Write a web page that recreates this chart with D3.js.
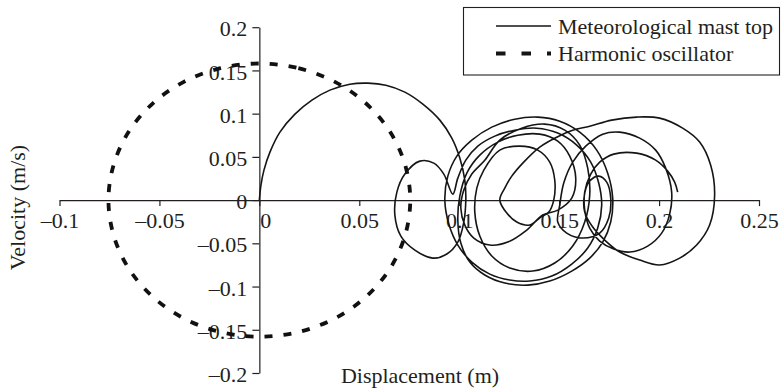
<!DOCTYPE html>
<html>
<head>
<meta charset="utf-8">
<script src="https://cdn.jsdelivr.net/npm/d3@7"></script>
<style>
  html, body { margin: 0; padding: 0; background: #fff; }
  svg { display: block; }
  text { font-family: "Liberation Serif", "Times New Roman", serif; fill: #231f20; }
</style>
</head>
<body>
<div id="chart"></div>
<script>
// Phase-plane trajectory: displacement (m) vs velocity (m/s)

const xTicks = [-0.1, -0.05, 0, 0.05, 0.1, 0.15, 0.2, 0.25];
const yTicks = [-0.2, -0.15, -0.1, -0.05, 0, 0.05, 0.1, 0.15, 0.2];

const seriesNames = ["Meteorological mast top", "Harmonic oscillator"];

// Measured response at the top of the mast
const mastDisp = [
  0.000,0.0008,0.0023,0.0053,0.0103,0.0178,0.0263,0.0353,0.0453,0.0543,0.0633,0.0728,0.0818,0.0903,0.0963,0.1003,0.1028,0.1033,
  0.1023,0.0993,0.0938,0.0868,0.0778,0.0708,0.0678,0.0688,0.0728,0.0803,0.0873,0.0923,0.0968,
  0.0993,0.1033,0.1093,0.1178,0.1278,0.1388,0.1493,0.1588,0.1658,0.1698,0.1713,0.1693,0.1643,0.1563,0.1463,0.1353,0.1253,0.1153,0.1063,0.0993,0.0948,0.0928,0.0943,0.0988,0.1063,
  0.1163,0.1278,0.1393,0.1503,0.1603,0.1688,0.1743,0.1768,0.1758,0.1718,0.1653,0.1563,0.1453,0.1343,0.1228,0.1128,0.1053,0.1008,0.0993,0.1003,0.1038,0.1103,
  0.1193,0.1293,0.1403,0.1493,0.1553,0.1583,0.1563,0.1493,0.1418,0.1338,0.1243,0.1153,0.1073,0.1028,0.1008,0.1023,0.1063,0.1128,
  0.1203,0.1313,0.1428,0.1528,0.1603,0.1643,0.1653,0.1628,0.1568,0.1478,0.1368,0.1253,0.1163,0.1103,0.1078,0.1088,0.1123,
  0.1203,0.1303,0.1393,0.1453,0.1478,0.1473,0.1448,0.1408,0.1353,0.1288,0.1238,0.1203,0.1228,0.1263,0.1318,0.1403,0.1488,0.1568,0.1653,
  0.1763,0.1888,0.2003,0.2118,0.2203,0.2258,0.2278,0.2253,0.2188,0.2103,0.2003,0.1903,0.1803,0.1728,0.1668,
  0.1628,0.1628,0.1653,0.1698,0.1738,0.1758,0.1748,0.1703,0.1618,0.1538,0.1493,0.1503,0.1523,0.1568,0.1633,0.1718,
  0.1803,0.1903,0.1983,0.2033,0.2063,0.2053,0.2013,0.1943,0.1853,0.1773,0.1703,0.1653,
  0.1628,0.1628,0.1658,0.1703,0.1773,0.1888,0.1983,0.2043,0.2078,0.2093
];
const mastVel = [
  0,0.0173,0.0347,0.0555,0.0786,0.0994,0.1156,0.1272,0.1341,0.1353,0.1329,0.1249,0.1110,0.0925,0.0717,0.0486,0.0231,0,
  -0.0254,-0.0486,-0.0624,-0.0671,-0.0578,-0.0416,-0.0173,0.0092,0.0301,0.0451,0.0428,0.0301,0.0069,
  0.0254,0.0462,0.0624,0.0740,0.0809,0.0832,0.0775,0.0636,0.0439,0.0197,-0.0058,-0.0324,-0.0555,-0.0740,-0.0879,-0.0936,-0.0925,-0.0856,-0.0717,-0.0520,-0.0277,0,0.0277,0.0509,0.0694,
  0.0844,0.0936,0.0960,0.0913,0.0786,0.0578,0.0312,0.0023,-0.0254,-0.0486,-0.0671,-0.0821,-0.0936,-0.0983,-0.0960,-0.0867,-0.0717,-0.0497,-0.0231,0.0046,0.0312,0.0520,
  0.0671,0.0751,0.0763,0.0682,0.0509,0.0254,0.0023,-0.0116,-0.0173,-0.0347,-0.0486,-0.0520,-0.0439,-0.0289,-0.0092,0.0116,0.0301,0.0462,
  0.0694,0.0832,0.0879,0.0809,0.0636,0.0370,0.0058,-0.0254,-0.0532,-0.0728,-0.0821,-0.0786,-0.0647,-0.0416,-0.0139,0.0139,0.0347,
  0.0578,0.0624,0.0578,0.0439,0.0231,0,-0.0139,-0.0197,-0.0289,-0.0254,-0.0150,0,0.0139,0.0277,0.0428,0.0613,0.0728,0.0809,0.0855,
  0.0925,0.0960,0.0948,0.0832,0.0671,0.0405,0.0058,-0.0289,-0.0520,-0.0671,-0.0751,-0.0694,-0.0601,-0.0462,-0.0312,
  -0.0139,0.0081,0.0220,0.0277,0.0208,0.0023,-0.0208,-0.0382,-0.0439,-0.0382,-0.0254,-0.0058,0.0197,0.0439,0.0624,0.0763,
  0.0786,0.0717,0.0578,0.0370,0.0092,-0.0162,-0.0382,-0.0532,-0.0601,-0.0566,-0.0474,-0.0324,
  -0.0116,0.0092,0.0301,0.0439,0.0532,0.0543,0.0462,0.0335,0.0208,0.0092
];

// Equivalent undamped oscillator orbit
const oscDisp = [0,0.0195,0.0378,0.0534,0.0654,0.0729,0.0755,0.0729,0.0654,0.0534,0.0378,0.0195,
                 0,-0.0195,-0.0378,-0.0534,-0.0654,-0.0729,-0.0755,-0.0729,-0.0654,-0.0534,-0.0378,-0.0195];
const oscVel  = [0.158,0.1526,0.1368,0.1117,0.079,0.0409,0,-0.0409,-0.079,-0.1117,-0.1368,-0.1526,
                 -0.158,-0.1526,-0.1368,-0.1117,-0.079,-0.0409,0,0.0409,0.079,0.1117,0.1368,0.1526];

const W = 781, H = 389;
const ink = "#231f20";
const fontSize = 22;

const svg = d3.select("#chart").append("svg")
  .attr("width", W).attr("height", H)
  .attr("viewBox", `0 0 ${W} ${H}`);

const x = d3.scaleLinear().domain([-0.1, 0.25]).range([59.5, 759]);
const y = d3.scaleLinear().domain([-0.2, 0.2]).range([373, 27.2]);

const fmt = v => (v < 0 ? "\u2013" : "") + String(Math.abs(+v.toFixed(2)));

// Axes cross at the origin
const gx = svg.append("g")
  .attr("transform", `translate(0,${y(0)})`)
  .call(d3.axisBottom(x).tickValues(xTicks).tickSize(6).tickSizeOuter(0).tickFormat(fmt));
gx.selectAll("text")
  .attr("y", 12)
  .attr("dx", d => d === 0 ? 6 : 0);

const gy = svg.append("g")
  .attr("transform", `translate(${x(0)},0)`)
  .call(d3.axisLeft(y).tickValues(yTicks).tickSize(7).tickSizeOuter(0).tickFormat(fmt));
gy.selectAll("text")
  .attr("x", -12)
  .attr("dy", "0.39em");

svg.selectAll(".domain, .tick line")
  .attr("stroke", ink).attr("stroke-width", 1.2);
svg.selectAll(".tick text")
  .attr("fill", ink)
  .style("font-family", '"Liberation Serif", "Times New Roman", serif')
  .style("font-size", fontSize + "px");

// Axis titles
svg.append("text")
  .attr("x", 420).attr("y", 383)
  .attr("text-anchor", "middle")
  .style("font-size", fontSize + "px")
  .text("Displacement (m)");

svg.append("text")
  .attr("transform", "translate(25,207.5) rotate(-90)")
  .attr("text-anchor", "middle")
  .style("font-size", fontSize + "px")
  .text("Velocity (m/s)");

// Harmonic oscillator (dashed ellipse)
const oscPts = oscDisp.map((d, i) => [d, oscVel[i]]);
svg.append("path")
  .datum(oscPts)
  .attr("fill", "none")
  .attr("stroke", "#111")
  .attr("stroke-width", 3.8)
  .attr("stroke-dasharray", "8,11")
  .attr("d", d3.line().x(d => x(d[0])).y(d => y(d[1])).curve(d3.curveCatmullRomClosed));

// Mast-top trajectory
const n = Math.min(mastDisp.length, mastVel.length);
const mastPts = d3.range(n).map(i => [mastDisp[i], mastVel[i]]);
svg.append("path")
  .datum(mastPts)
  .attr("fill", "none")
  .attr("stroke", "#151515")
  .attr("stroke-width", 1.6)
  .attr("stroke-linejoin", "round")
  .attr("d", d3.line().x(d => x(d[0])).y(d => y(d[1])).curve(d3.curveCatmullRom.alpha(0.5)));

// Legend
const lg = svg.append("g");
lg.append("rect")
  .attr("x", 463.5).attr("y", 7.5).attr("width", 316).attr("height", 67.5)
  .attr("fill", "#fff").attr("stroke", ink).attr("stroke-width", 1.1);

const legendRows = [
  { name: seriesNames[0], dash: null, width: 1.6, yy: 26 },
  { name: seriesNames[1], dash: "9.5,16", width: 3.8, yy: 53.5 }
];
legendRows.forEach(r => {
  lg.append("line")
    .attr("x1", 496).attr("x2", 551).attr("y1", r.yy).attr("y2", r.yy)
    .attr("stroke", "#151515").attr("stroke-width", r.width)
    .attr("stroke-dasharray", r.dash);
  lg.append("text")
    .attr("x", 558).attr("y", r.yy + 7.5)
    .style("font-size", fontSize + "px")
    .text(r.name);
});
</script>
</body>
</html>
